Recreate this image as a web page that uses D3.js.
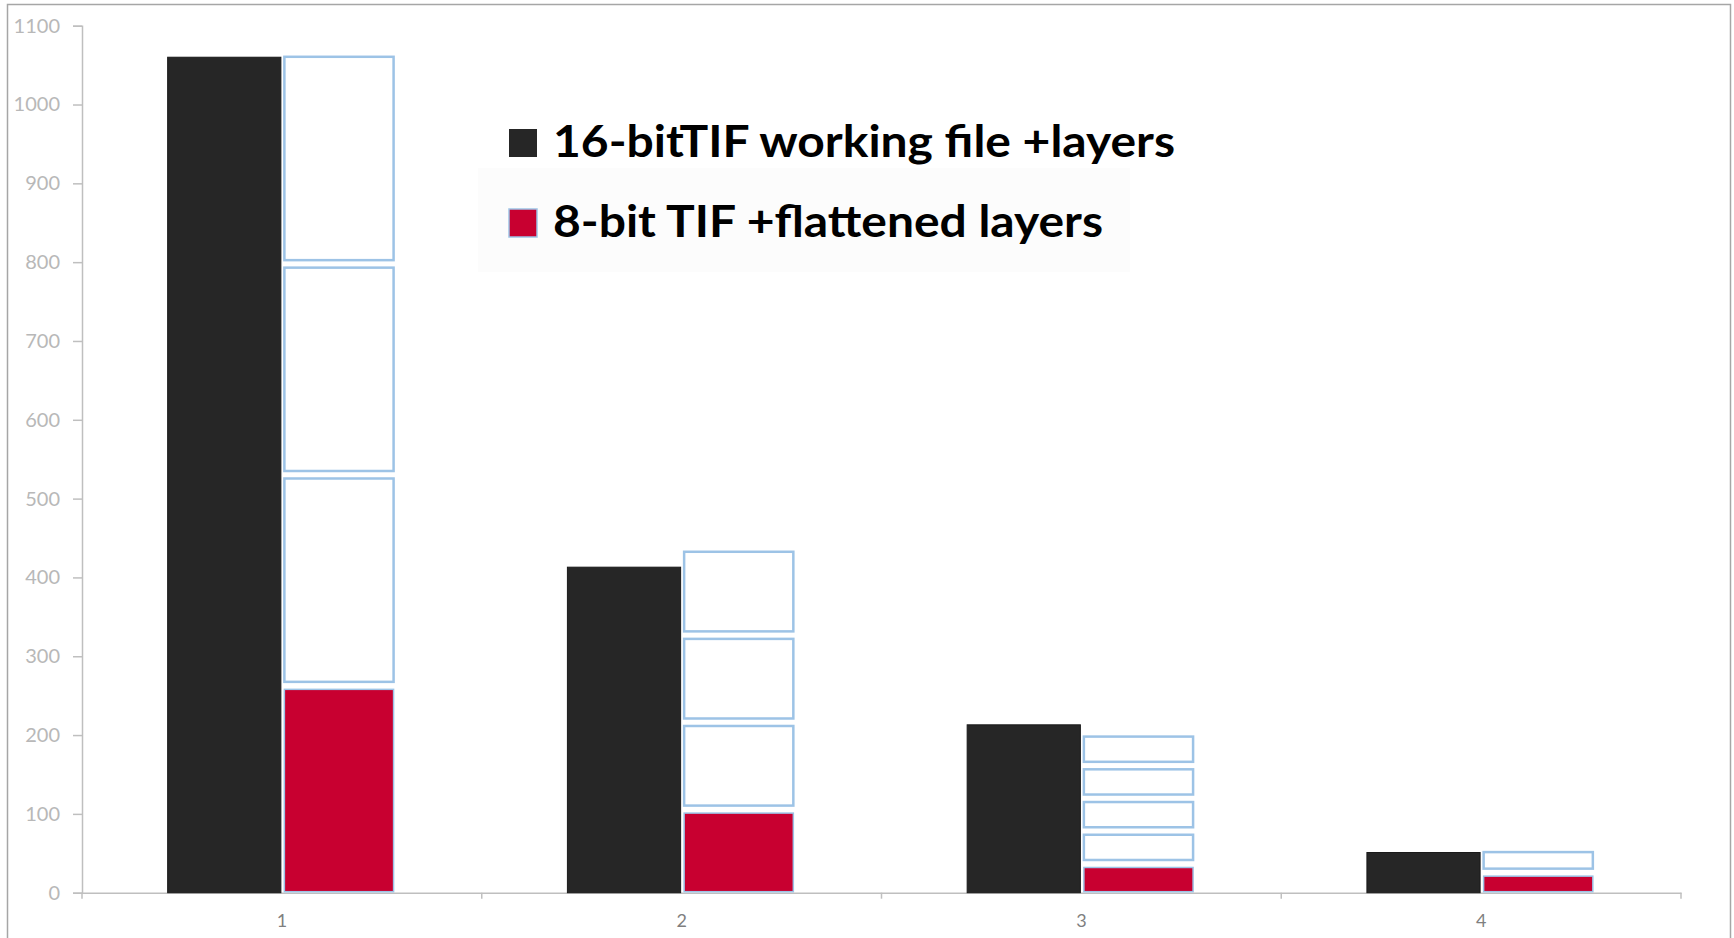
<!DOCTYPE html>
<html lang="en">
<head>
  <meta charset="utf-8" />
  <title>16-bit vs 8-bit TIF file sizes</title>
  <script src="https://cdn.jsdelivr.net/npm/d3@7"></script>
  <style>
    body { margin: 0; background: #fff; }
  </style>
</head>
<body>
<script>
  // values
  var categories = ["1", "2", "3", "4"];
  var sixteenBit = [1060, 413, 213, 51];   // black bars
  var eightBit = [258, 101, 32, 21];       // red bars
  var copies = [3, 3, 4, 1];               // outlined 8-bit boxes stacked above the red bar
  var yTicks = [0, 100, 200, 300, 400, 500, 600, 700, 800, 900, 1000, 1100];
  var legendLabels = ["16-bitTIF working file +layers", "8-bit TIF +flattened layers"];

  var w = 1734, h = 938;
  var black = "#262626", red = "#c80030", blue = "#9dc3e6";

  var svg = d3.select("body")
    .append("svg")
    .attr("width", w)
    .attr("height", h);

  // outer frame
  svg.append("rect")
    .attr("x", 7.5).attr("y", 4.5)
    .attr("width", 1723).attr("height", 960)
    .attr("fill", "none")
    .attr("stroke", "#a6a6a6")
    .attr("stroke-width", 1.5);

  var y = d3.scaleLinear().domain([0, 1100]).range([892.7, 25.7]);

  var x0 = d3.scaleBand().domain(categories).range([82, 1681]).paddingInner(0).paddingOuter(0);
  var x1 = d3.scaleBand().domain(["a", "b"]).range([0, x0.bandwidth()])
    .paddingInner(0).paddingOuter(0.75);

  // y axis
  var yAxis = svg.append("g")
    .attr("transform", "translate(82,0)")
    .call(d3.axisLeft(y).tickValues(yTicks).tickFormat(d3.format("d")).tickSize(9).tickPadding(13));
  yAxis.select(".domain").attr("stroke", "#bfbfbf").attr("stroke-width", 1.5);
  yAxis.selectAll(".tick line").attr("stroke", "#bfbfbf").attr("stroke-width", 1.5);
  yAxis.selectAll(".tick text")
    .attr("fill", "#b8b8b8")
    .attr("font-family", "Lato, sans-serif")
    .attr("font-size", "20px");

  // x axis: labels at band centres, ticks at band edges
  var xAxis = svg.append("g")
    .attr("transform", "translate(0," + y(0) + ")")
    .call(d3.axisBottom(x0).tickSize(0).tickPadding(22).tickSizeOuter(0));
  xAxis.select(".domain").attr("stroke", "#bfbfbf").attr("stroke-width", 1.5);
  xAxis.selectAll(".tick text")
    .attr("fill", "#7f7f7f")
    .attr("font-family", "Lato, sans-serif")
    .attr("font-size", "18px");

  var edges = categories.map(function(c) { return x0(c); }).concat([x0.range()[1]]);
  svg.selectAll("line.edge")
    .data(edges)
    .enter()
    .append("line")
    .attr("class", "edge")
    .attr("x1", function(d) { return d; })
    .attr("x2", function(d) { return d; })
    .attr("y1", y(0))
    .attr("y2", y(0) + 6)
    .attr("stroke", "#bfbfbf")
    .attr("stroke-width", 1.5);

  var groups = svg.selectAll("g.cat")
    .data(categories)
    .enter()
    .append("g")
    .attr("class", "cat")
    .attr("transform", function(d) { return "translate(" + x0(d) + ",0)"; });

  // black bars
  groups.append("rect")
    .attr("x", x1("a"))
    .attr("width", x1.bandwidth() - 1)
    .attr("y", function(d, i) { return y(sixteenBit[i]); })
    .attr("height", function(d, i) { return y(0) - y(sixteenBit[i]); })
    .attr("fill", black)
    .attr("stroke", "#1a1a1a")
    .attr("stroke-width", 1);

  // red bars + outlined copies of the same height stacked above them
  var gapPx = 7.5;
  var inset = 2.5;
  groups.each(function(d, i) {
    var g = d3.select(this);
    var v = eightBit[i];
    var segs = d3.range(copies[i] + 1);
    g.selectAll("rect.seg")
      .data(segs)
      .enter()
      .append("rect")
      .attr("class", "seg")
      .attr("x", x1("b") + inset)
      .attr("width", x1.bandwidth() - inset * 2)
      .attr("y", function(k) { return y((k + 1) * v) - k * gapPx; })
      .attr("height", function(k) { return y(k * v) - y((k + 1) * v) - (k === 0 ? 1 : 0); })
      .attr("fill", function(k) { return k === 0 ? red : "#fff"; })
      .attr("stroke", blue)
      .attr("stroke-width", function(k) { return k === 0 ? 1.5 : 2.5; });
  });

  // legend
  svg.append("rect")
    .attr("x", 478).attr("y", 168)
    .attr("width", 652).attr("height", 104)
    .attr("fill", "#fcfcfc");

  var legendY = [143, 223];
  var legendW = [622, 550];
  var lg = svg.selectAll("g.legend")
    .data(legendLabels)
    .enter()
    .append("g")
    .attr("class", "legend")
    .attr("transform", function(d, i) { return "translate(509," + legendY[i] + ")"; });

  lg.append("rect")
    .attr("x", 0).attr("y", -14)
    .attr("width", 28).attr("height", 28)
    .attr("fill", function(d, i) { return i === 0 ? black : red; })
    .attr("stroke", function(d, i) { return i === 0 ? "none" : blue; })
    .attr("stroke-width", 1.5);

  lg.append("text")
    .text(function(d) { return d; })
    .attr("x", 44)
    .attr("y", 14)
    .attr("font-family", "Lato, sans-serif")
    .attr("font-weight", "bold")
    .attr("font-size", "44px")
    .attr("fill", "#000")
    .attr("textLength", function(d, i) { return legendW[i]; })
    .attr("lengthAdjust", "spacingAndGlyphs");
</script>
</body>
</html>
